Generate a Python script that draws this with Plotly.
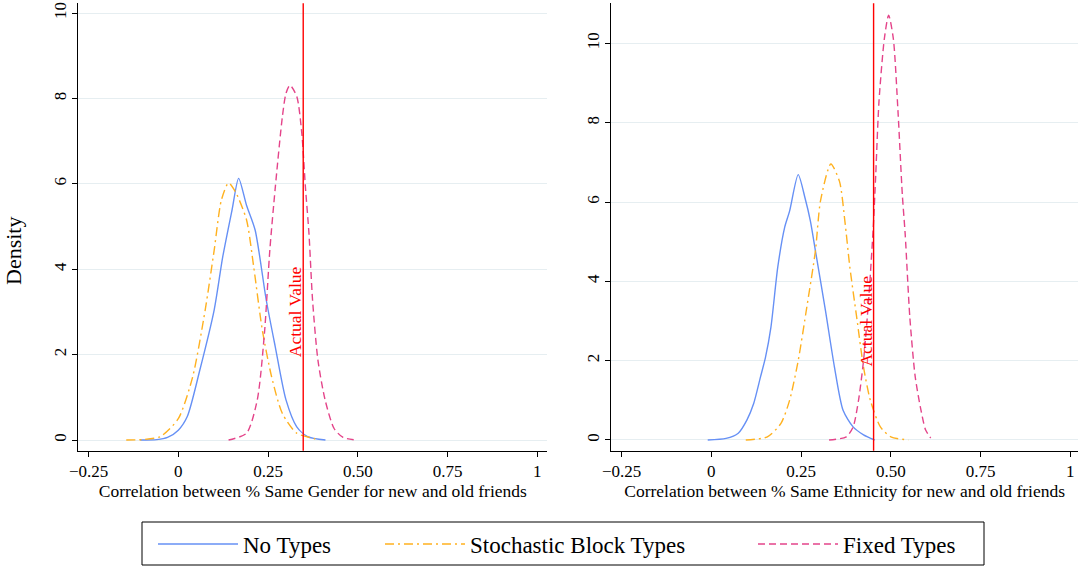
import plotly.graph_objects as go

# ---------------- data ----------------
# Gender panel
gender_none_x = [-0.106, -0.06, -0.03, 0.0, 0.025, 0.06, 0.10, 0.124, 0.15, 0.168, 0.19, 0.214, 0.245, 0.27, 0.30, 0.33, 0.36, 0.41]
gender_none_y = [0, 0.01, 0.06, 0.23, 0.55, 1.64, 3.05, 4.3, 5.4, 6.13, 5.5, 4.92, 3.28, 2.19, 0.94, 0.31, 0.08, 0.0]
gender_sbm_x = [-0.145, -0.1, -0.05, 0.0, 0.04, 0.075, 0.10, 0.12, 0.14, 0.16, 0.19, 0.21, 0.234, 0.26, 0.29, 0.33, 0.38, 0.39]
gender_sbm_y = [0, 0.01, 0.08, 0.5, 1.48, 3.05, 4.45, 5.62, 6.02, 5.8, 5.16, 4.06, 2.58, 1.48, 0.62, 0.16, 0.03, 0.0]
gender_fixed_x = [0.14, 0.19, 0.22, 0.24, 0.255, 0.27, 0.29, 0.30, 0.311, 0.33, 0.344, 0.354, 0.364, 0.374, 0.389, 0.409, 0.434, 0.459, 0.494]
gender_fixed_y = [0, 0.16, 0.94, 2.5, 4.45, 5.9, 7.58, 8.12, 8.31, 8.05, 7.19, 5.94, 4.84, 3.28, 1.87, 0.94, 0.27, 0.06, 0]
gender_actual = 0.348

# Ethnicity panel
eth_none_x = [-0.01, 0.041, 0.075, 0.099, 0.118, 0.137, 0.151, 0.166, 0.185, 0.204, 0.218, 0.242, 0.261, 0.276, 0.29, 0.318, 0.343, 0.367, 0.395, 0.424, 0.455]
eth_none_y = [0, 0.04, 0.17, 0.5, 0.92, 1.59, 2.09, 2.84, 4.35, 5.35, 5.77, 6.69, 6.1, 5.52, 4.77, 3.26, 1.84, 0.75, 0.33, 0.13, 0]
eth_sbm_x = [0.096, 0.156, 0.194, 0.218, 0.242, 0.266, 0.29, 0.304, 0.333, 0.357, 0.372, 0.386, 0.405, 0.424, 0.443, 0.471, 0.5, 0.549]
eth_sbm_y = [0, 0.08, 0.42, 1.0, 2.0, 3.35, 4.77, 6.02, 6.96, 6.52, 5.52, 4.35, 3.09, 1.84, 1.0, 0.33, 0.08, 0]
eth_fixed_x = [0.328, 0.376, 0.395, 0.41, 0.424, 0.438, 0.451, 0.458, 0.467, 0.482, 0.494, 0.507, 0.52, 0.532, 0.54, 0.553, 0.568, 0.584, 0.597, 0.611]
eth_fixed_y = [0, 0.08, 0.33, 1.0, 2.0, 3.51, 5.35, 6.69, 8.53, 10.12, 10.71, 10.12, 8.28, 6.19, 5.19, 3.09, 1.59, 0.75, 0.25, 0.05]
eth_actual = 0.452

series_names = ["No Types", "Stochastic Block Types", "Fixed Types"]
x_tick_vals = [-0.25, 0, 0.25, 0.5, 0.75, 1]
x_tick_text = ["\u22120.25", "0", "0.25", "0.50", "0.75", "1"]
y_tick_vals = [0, 2, 4, 6, 8, 10]
x_titles = ["Correlation between % Same Gender for new and old friends",
            "Correlation between % Same Ethnicity for new and old friends"]

# ---------------- style / layout ----------------
W, H = 1078, 568
OFF = 0  # page body margin is removed by the post script below


def px(sx):
    return (sx - OFF) / W


def py(sy):
    return 1 - (sy - OFF) / H


FONT = "Liberation Serif"
colors = ["#6690F5", "#FFB11F", "#E4448A"]
dashes = ["solid", "9px,4px,2px,4px", "7px,4px"]
GRID = "#E6EEF1"

fig = go.Figure()

panels = [
    ("x", "y", [gender_none_x, gender_sbm_x, gender_fixed_x], [gender_none_y, gender_sbm_y, gender_fixed_y], gender_actual),
    ("x2", "y2", [eth_none_x, eth_sbm_x, eth_fixed_x], [eth_none_y, eth_sbm_y, eth_fixed_y], eth_actual),
]
legend_ids = ["legend", "legend2", "legend3"]

for pi, (xa, ya, xs, ys, actual) in enumerate(panels):
    for si in range(3):
        fig.add_trace(go.Scatter(
            x=xs[si], y=ys[si], mode="lines", xaxis=xa, yaxis=ya,
            name=series_names[si],
            line=dict(color=colors[si], width=1.4, dash=dashes[si], shape="spline", smoothing=0.7),
            showlegend=(pi == 0), legend=legend_ids[si],
        ))
    fig.add_shape(type="line", xref=xa, yref=ya + " domain",
                  x0=actual, x1=actual, y0=0, y1=1,
                  line=dict(color="#FF0000", width=1.4))
    fig.add_annotation(x=actual, y=3, xref=xa, yref=ya, text="Actual Value",
                       textangle=-90, showarrow=False, xshift=-8, xanchor="center",
                       font=dict(family=FONT, size=17.5, color="#FF0000"))

ybot = py(450.7)
ytop = py(3.3)
common_x = dict(tickvals=x_tick_vals, ticktext=x_tick_text, ticks="outside", ticklen=5,
                tickcolor="black", showline=True, linecolor="black", linewidth=1,
                showgrid=False, zeroline=False, automargin=False, ticklabeloverflow="allow",
                tickfont=dict(family=FONT, size=17, color="black"),
                title_font=dict(family=FONT, size=17.5, color="black"), title_standoff=2)
common_y = dict(tickvals=y_tick_vals, ticks="outside", ticklen=5, tickcolor="black",
                showline=True, linecolor="black", linewidth=1, showgrid=True, gridcolor=GRID,
                gridwidth=1, zeroline=False, tickangle=-90, automargin=False,
                ticklabeloverflow="allow",
                tickfont=dict(family=FONT, size=17, color="black"))

fig.update_layout(
    width=W, height=H, margin=dict(l=0, r=0, t=0, b=0, autoexpand=False),
    plot_bgcolor="white", paper_bgcolor="white",
    xaxis=dict(domain=[px(78.3), px(547.3)], range=[-0.2786, 1.028], anchor="y",
               title_text=x_titles[0], **common_x),
    yaxis=dict(domain=[ybot, ytop], range=[-0.25, 10.23], anchor="x", **common_y),
    xaxis2=dict(domain=[px(611.3), 1.0], range=[-0.2786, 1.0214], anchor="y2",
                title_text=x_titles[1], **common_x),
    yaxis2=dict(domain=[ybot, ytop], range=[-0.27, 11.01], anchor="x2", **common_y),
)

# "Density" label
fig.add_annotation(x=px(13), y=py(251), xref="paper", yref="paper", text="Density",
                   textangle=-90, showarrow=False, xanchor="center", yanchor="middle",
                   font=dict(family=FONT, size=22, color="black"))

# legends (one per entry so each can sit where the reference puts it)
leg_y = py(544)
text_starts = [243, 470, 843]
ITEMW = 80
common_leg = dict(orientation="h", yanchor="middle", xanchor="left", itemwidth=ITEMW,
                  font=dict(family=FONT, size=23, color="black"), bgcolor="rgba(0,0,0,0)",
                  borderwidth=0)
fig.update_layout(
    legend=dict(x=px(text_starts[0] - ITEMW - 10), y=leg_y, **common_leg),
    legend2=dict(x=px(text_starts[1] - ITEMW - 10), y=leg_y, **common_leg),
    legend3=dict(x=px(text_starts[2] - ITEMW - 10), y=leg_y, **common_leg),
)
fig.add_shape(type="rect", xref="paper", yref="paper",
              x0=px(142), x1=px(984), y0=py(565), y1=py(522),
              line=dict(color="black", width=1), fillcolor="rgba(0,0,0,0)")

fig.write_html("out.html", config={"displayModeBar": False},
               post_script="document.body.style.margin='0';document.body.style.overflow='hidden';")
